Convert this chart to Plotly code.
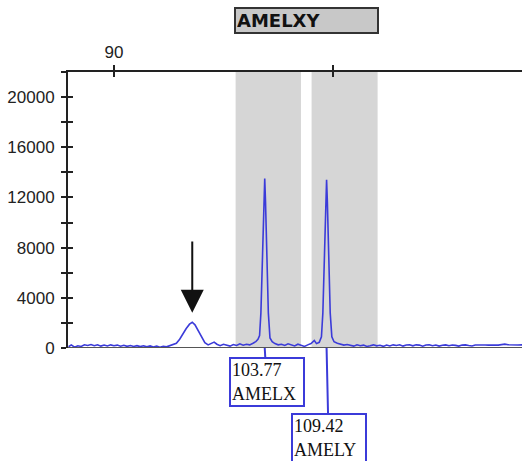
import plotly.graph_objects as go

# ---- data ----
size_bp = [85.85, 86.1, 86.4, 86.7, 87.0, 87.3, 87.6, 87.9, 88.2, 88.5, 88.8, 89.1, 89.4, 89.7,
           90.0, 90.3, 90.6, 90.9, 91.2, 91.5, 91.8, 92.1, 92.4, 92.7, 93.0, 93.3, 93.6, 93.9,
           94.2, 94.5, 94.8, 95.1, 95.4, 95.7, 96.0, 96.3, 96.6, 96.9, 97.15, 97.4, 97.7, 98.0,
           98.3, 98.6, 98.9, 99.15, 99.4, 99.7, 100.0, 100.3, 100.6, 100.9, 101.2, 101.5, 101.8,
           102.1, 102.4, 102.7, 102.95, 103.15, 103.3, 103.42, 103.58, 103.7, 103.77, 103.84,
           103.96, 104.1, 104.25, 104.45, 104.7, 105.0, 105.3, 105.6, 105.9, 106.2, 106.5, 106.8,
           107.1, 107.4, 107.7, 108.0, 108.3, 108.5, 108.75, 108.95, 109.08, 109.22, 109.35,
           109.42, 109.49, 109.6, 109.75, 109.9, 110.1, 110.4, 110.7, 111.0, 111.3, 111.6, 111.9,
           112.2, 112.5, 112.8, 113.1, 113.4, 113.7, 114.0, 114.3, 114.6, 114.9, 115.2, 115.5,
           115.8, 116.1, 116.4, 116.7, 117.0, 117.3, 117.6, 117.9, 118.2, 118.5, 118.8, 119.1,
           119.4, 119.7, 120.0, 120.3, 120.6, 120.9, 121.2, 121.5, 121.8, 122.1, 122.4, 122.7,
           123.0, 123.3, 123.6, 123.9, 124.2, 124.5, 124.8, 125.1, 125.4, 125.7, 126.0, 126.3,
           126.6, 126.9, 127.3]
rfu = [100, 250, 60, 180, 120, 260, 200, 280, 180, 260, 150, 240, 160, 250,
       180, 230, 140, 220, 130, 200, 120, 190, 110, 180, 90, 170, 80, 150,
       60, 140, 90, 200, 260, 380, 700, 1150, 1550, 1900, 2050, 1850, 1350, 800,
       420, 250, 350, 470, 300, 180, 300, 220, 150, 280, 200, 330, 220,
       300, 250, 380, 500, 700, 1000, 2800, 7200, 11800, 13500, 11700,
       7200, 2800, 800, 500, 350, 250, 300, 200, 330, 250, 160, 300,
       200, 120, 250, 350, 600, 350, 450, 900, 2800, 7200, 11700,
       13400, 11700, 7200, 2800, 900, 500, 380, 300, 230, 280, 200, 150,
       260, 180, 230, 120, 180, 250, 170, 220, 130, 240, 160, 250,
       200, 260, 150, 240, 260, 170, 250, 230, 140, 240, 260, 180,
       240, 150, 220, 250, 180, 240, 210, 150, 230, 250, 200, 160,
       240, 220, 230, 240, 230, 210, 240, 230, 250, 310, 260, 240,
       250, 240, 250]

bins = [(101.11, 107.08), (108.05, 114.08)]
marker_name = "AMELXY"
peak_sizes = [103.77, 109.42]
peak_alleles = ["AMELX", "AMELY"]
artifact_size = 97.15
artifact_height = 2050

x_tickvals = [90, 110]
x_ticktext = ["90", ""]
y_tickvals = list(range(0, 22001, 2000))
y_ticktext = [str(v) if v % 4000 == 0 else "" for v in y_tickvals]

XR = [85.8, 127.27]
YR = [0, 22000]

fig = go.Figure()

# bins
for b0, b1 in bins:
    fig.add_shape(type="rect", xref="x", yref="paper", x0=b0, x1=b1, y0=0, y1=1,
                  fillcolor="#d6d6d6", line_width=0, layer="below")

fig.add_trace(go.Scatter(x=size_bp, y=rfu, mode="lines",
                         line=dict(color="#3b3bd9", width=1.6), hoverinfo="skip",
                         showlegend=False, cliponaxis=True))
# dummy trace on overlay axes for crossing ticks
fig.add_trace(go.Scatter(x=size_bp, y=rfu, mode="lines", xaxis="x2", yaxis="y2",
                         line=dict(color="rgba(0,0,0,0)", width=0), hoverinfo="skip",
                         showlegend=False))

# baseline line
fig.add_shape(type="line", xref="paper", yref="y", x0=0, x1=1, y0=0, y1=0,
              line=dict(color="#555555", width=2))

# marker title box
fig.add_annotation(x=(bins[0][0] + bins[-1][1]) / 2, xref="x", y=1.185, yref="paper",
                   text="<b>" + marker_name + "</b>", showarrow=False,
                   font=dict(family="DejaVu Sans", size=18, color="#111111"),
                   align="left", width=139, height=21, bgcolor="#c8c8c8",
                   bordercolor="#333333", borderwidth=2, borderpad=1,
                   xanchor="center", yanchor="middle")

# allele labels
offsets = [34, 90]
for s, name, off in zip(peak_sizes, peak_alleles, offsets):
    fig.add_annotation(x=s, y=0, xref="x", yref="y",
                       text=f"{s:.2f}<br>{name}", showarrow=True, arrowhead=0,
                       arrowwidth=2, arrowcolor="#3b3bd9", ax=2, ay=off,
                       font=dict(family="Liberation Serif", size=18, color="#111111"),
                       align="left", width=70, height=44, bgcolor="white",
                       bordercolor="#3b3bd9", borderwidth=2, borderpad=1)

# arrow pointing to artifact
fig.add_annotation(x=artifact_size, y=artifact_height + 750, xref="x", yref="y",
                   ax=artifact_size, ay=8600, axref="x", ayref="y",
                   showarrow=True, arrowhead=2, arrowsize=2.3, arrowwidth=2,
                   arrowcolor="#111111", text="")

fig.update_layout(
    width=522, height=461,
    margin=dict(l=68, r=0, t=72, b=113),
    plot_bgcolor="white", paper_bgcolor="white",
    font=dict(family="Liberation Sans", size=16, color="#222222"),
    xaxis=dict(range=XR, side="top", showline=True, linecolor="#222222", linewidth=2,
               showgrid=False, zeroline=False, ticks="outside", ticklen=5, tickwidth=2,
               tickcolor="#222222", tickvals=x_tickvals, ticktext=x_ticktext,
               tickfont=dict(size=17), ticklabelstandoff=0),
    yaxis=dict(range=YR, showline=True, linecolor="#222222", linewidth=2,
               showgrid=False, zeroline=False, ticks="outside", ticklen=5, tickwidth=2,
               tickcolor="#222222", tickvals=y_tickvals, ticktext=y_ticktext,
               tickfont=dict(size=17), ticklabelstandoff=3),
    xaxis2=dict(range=XR, overlaying="x", side="top", showline=False, showgrid=False,
                zeroline=False, ticks="inside", ticklen=5, tickwidth=2, tickcolor="#222222",
                tickvals=x_tickvals, showticklabels=False),
    yaxis2=dict(range=YR, overlaying="y", side="left", showline=False, showgrid=False,
                zeroline=False, ticks="inside", ticklen=5, tickwidth=2, tickcolor="#222222",
                tickvals=y_tickvals, showticklabels=False),
)

fig.write_html("out.html")
